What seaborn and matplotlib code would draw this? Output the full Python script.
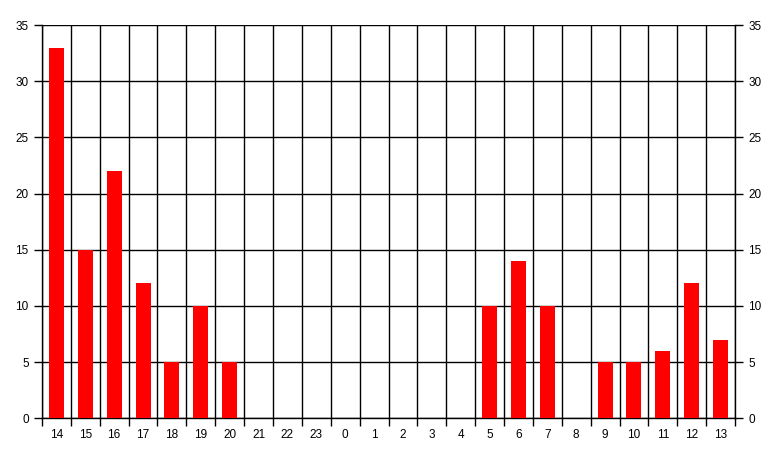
import numpy as np
import pandas as pd
import seaborn as sns
import matplotlib.pyplot as plt

# data
hours = ['14', '15', '16', '17', '18', '19', '20', '21', '22', '23', '0', '1',
         '2', '3', '4', '5', '6', '7', '8', '9', '10', '11', '12', '13']
counts = [33, 15, 22, 12, 5, 10, 5, 0, 0, 0, 0, 0,
          0, 0, 0, 10, 14, 10, 0, 5, 5, 6, 12, 7]

sns.set_style('white')
plt.rcParams['font.family'] = ['Liberation Sans', 'DejaVu Sans']

data = pd.DataFrame({'hour': hours, 'count': counts})

fig = plt.figure(figsize=(7.77, 4.57), dpi=100)
ax = fig.add_axes([0.054, 0.085, 0.892, 0.86])
sns.barplot(x='hour', y='count', data=data, order=hours, color='#ff0000',
            saturation=1, width=0.52, linewidth=0, edgecolor='none', ax=ax, zorder=3)

ax.set_xlim(-0.5, len(hours) - 0.5)
ax.set_ylim(0, 35)
ax.set_yticks(range(0, 36, 5))
ax.set_xlabel('')
ax.set_ylabel('')

# vertical lines between categories
ax.set_xticks(np.arange(-0.5, len(hours), 1), minor=True)
ax.tick_params(axis='x', which='major', bottom=False, length=0, labelsize=8.5,
               pad=8, colors='black')
ax.tick_params(axis='x', which='minor', bottom=True, length=6, width=1,
               color='black', direction='out')
ax.tick_params(axis='y', which='major', length=6, width=1, labelsize=8.5,
               color='black', labelcolor='black',
               left=True, right=True, labelleft=True, labelright=True, direction='out')
ax.grid(True, which='minor', axis='x', color='black', lw=1, zorder=1)
ax.grid(True, which='major', axis='y', color='black', lw=1, zorder=1)
ax.set_axisbelow(True)

for s in ['left', 'right', 'bottom']:
    ax.spines[s].set_color('black')
    ax.spines[s].set_linewidth(1)
ax.spines['top'].set_visible(False)

fig.savefig('out.png', dpi=100)
